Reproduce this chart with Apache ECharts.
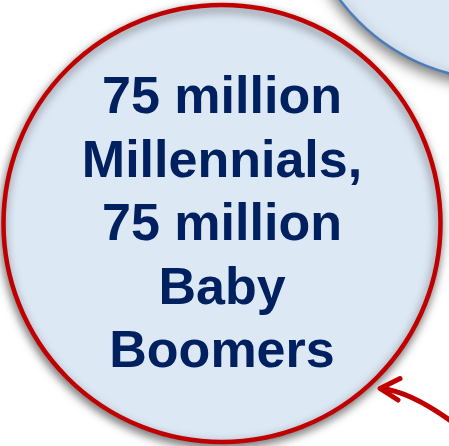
<!DOCTYPE html>
<html>
<head>
<meta charset="utf-8">
<script src="https://cdn.jsdelivr.net/npm/echarts@6/dist/echarts.min.js"></script>
<style>
html,body{margin:0;padding:0;background:#ffffff;}
#chart{width:449px;height:446px;}
</style>
</head>
<body>
<div id="chart"></div>
<script>
// Text content of the main bubble
var bubbleLines = ['75 million', 'Millennials,', '75 million', 'Baby', 'Boomers'];

var chart = echarts.init(document.getElementById('chart'), null, {renderer: 'canvas'});

var fillColor = '#dde8f5';
var red = '#c00000';
var navy = '#002060';

var option = {
  animation: false,
  backgroundColor: '#ffffff',
  graphic: [
    {
      type: 'circle',
      z: 1,
      shape: {cx: 500, cy: -120, r: 200},
      style: {
        fill: fillColor, stroke: '#4a7ebb', lineWidth: 2.5,
        shadowBlur: 14, shadowColor: 'rgba(0,0,0,0.55)', shadowOffsetX: 0, shadowOffsetY: 5
      }
    },
    {
      type: 'circle',
      z: 2,
      shape: {cx: 222, cy: 223.5, r: 218.5},
      style: {
        fill: fillColor, stroke: red, lineWidth: 4.5,
        shadowBlur: 10, shadowColor: 'rgba(0,0,0,0.5)', shadowOffsetX: -1, shadowOffsetY: 4
      }
    },
    {
      type: 'text',
      z: 3,
      style: {
        text: bubbleLines.join('\n'),
        x: 222, y: 226,
        fill: navy,
        font: 'bold 52px "Liberation Sans", Arial, sans-serif',
        lineHeight: 63.5,
        align: 'center',
        verticalAlign: 'middle'
      }
    },
    {
      type: 'bezierCurve',
      z: 4,
      shape: {x1: 455, y1: 424, cpx1: 432, cpy1: 407, cpx2: 406, cpy2: 391, x2: 381, y2: 388.5},
      style: {fill: null, stroke: red, lineWidth: 5, lineCap: 'round'}
    },
    {
      type: 'polyline',
      z: 4,
      shape: {points: [[400, 378.5], [380, 388.5], [398, 400]]},
      style: {fill: null, stroke: red, lineWidth: 5, lineCap: 'round', lineJoin: 'round'}
    }
  ]
};
chart.setOption(option);
</script>
</body>
</html>
